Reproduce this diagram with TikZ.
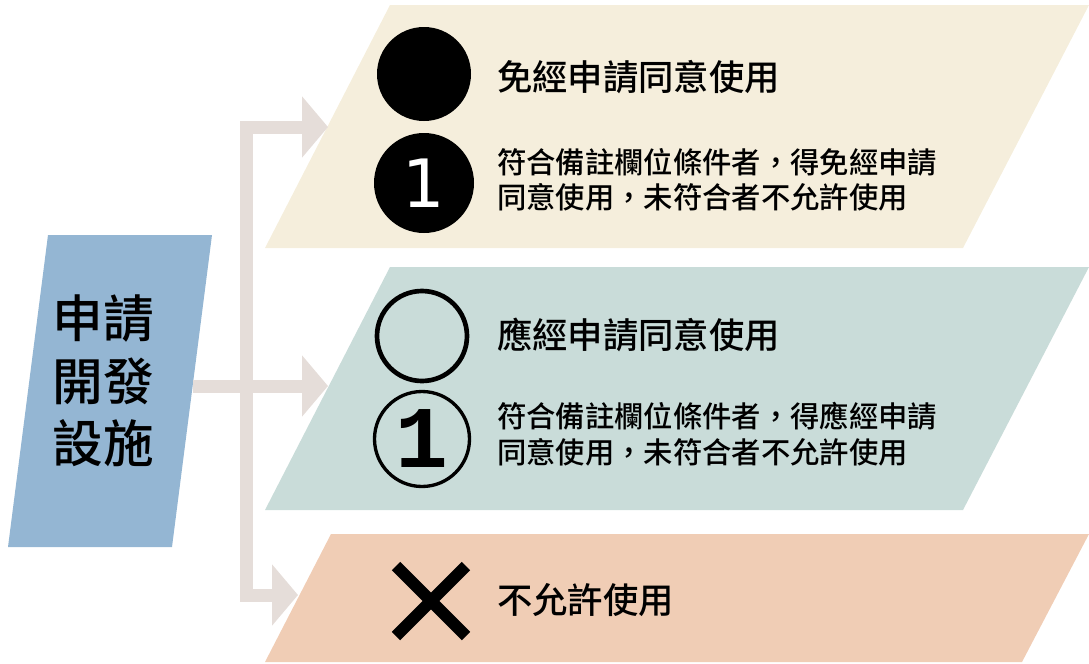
\documentclass[tikz,border=0pt]{standalone}
\usepackage{fontspec}
\usetikzlibrary{arrows.meta}
\newfontfamily\cjk{Noto Sans CJK TC Medium}
\newfontfamily\numfont{DejaVu Sans}
\newfontfamily\slabfont{Liberation Mono}
\definecolor{panelbeige}{HTML}{F5EEDC}
\definecolor{panelteal}{HTML}{C9DCD9}
\definecolor{panelpeach}{HTML}{F0CDB5}
\definecolor{boxblue}{HTML}{94B6D3}
\definecolor{flowgray}{HTML}{E5DDD9}
\begin{document}
\begin{tikzpicture}[x=0.75pt, y=-0.75pt,
  flow/.style={line width=9.75pt, draw=flowgray, -{Triangle[length=19.5pt,width=45pt]}},
  titletext/.style={anchor=west, inner sep=0pt, font=\cjk\fontsize{26.5pt}{30pt}\selectfont},
  notetext/.style={anchor=west, inner sep=0pt, align=left, font=\cjk\fontsize{22pt}{26.5pt}\selectfont},
  badge/.style={circle, inner sep=0pt, outer sep=0pt}]
\useasboundingbox (0,0) rectangle (1089,664);
% panels
\fill[panelbeige] (265,248) -- (390,5) -- (1089,5) -- (963,248) -- cycle;
\fill[panelteal] (265,510) -- (390,267) -- (1089,267) -- (963,510) -- cycle;
\fill[panelpeach] (265,662) -- (331,534) -- (1089,534) -- (1022,662) -- cycle;
\fill[boxblue] (8,547) -- (48,235) -- (212,235) -- (172,547) -- cycle;
\node[font=\cjk\fontsize{38pt}{47pt}\selectfont, align=center] (applyText) at (103,381) {申請\\開發\\設施};
% connectors
\coordinate (boxOut) at (193,386);
\coordinate (hub) at (246,386);
\coordinate (inA) at (328,127);
\coordinate (inB) at (328,386);
\coordinate (inC) at (298,595);
\draw[flow,-] (boxOut) -- (hub);
\draw[flow] (hub) |- (inA);
\draw[flow] (hub) -- (inB);
\draw[flow] (hub) |- (inC);
% badges
\node[badge, fill=black, minimum size=94*0.75pt] (dotA) at (424,74) {};
\node[badge, fill=black, minimum size=100*0.75pt, text=white,
  font=\numfont\fontsize{50pt}{50pt}\selectfont] (dotB) at (424,183) {1};
\node[badge, draw, line width=3.5pt, minimum size=90*0.75pt] (ringA) at (422,336) {};
\node[badge, draw, line width=2.5pt, minimum size=95*0.75pt,
  font=\slabfont\bfseries\fontsize{66pt}{66pt}\selectfont] (ringB) at (422,439) {1};
\draw[line width=9pt] (396,566) -- (466,636) (466,566) -- (396,636);
% labels
\node[titletext] (titleA) at (497,77) {免經申請同意使用};
\node[notetext] (noteA) at (497,180) {符合備註欄位條件者，得免經申請\\同意使用，未符合者不允許使用};
\node[titletext] (titleB) at (497,335) {應經申請同意使用};
\node[notetext] (noteB) at (497,434) {符合備註欄位條件者，得應經申請\\同意使用，未符合者不允許使用};
\node[titletext] (titleC) at (497,600) {不允許使用};
\end{tikzpicture}
\end{document}
